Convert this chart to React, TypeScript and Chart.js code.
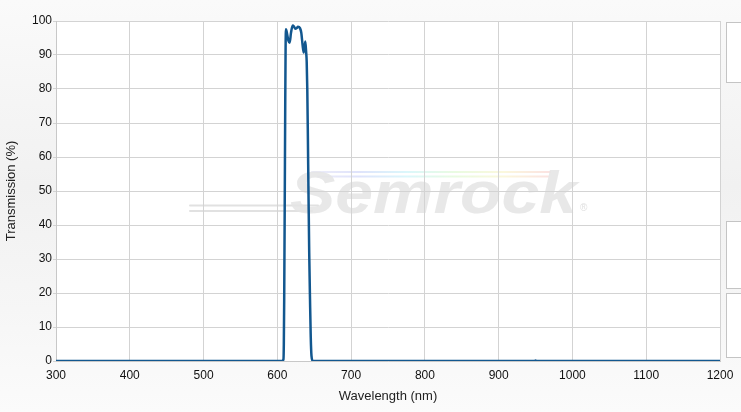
import React, { useEffect, useRef } from "react";
import { Chart, registerables } from "chart.js";

Chart.register(...registerables);

const wavelengths: number[] = [
  300, 600, 606, 608.3, 608.8, 609.3, 610, 610.7, 611.2, 611.7, 613, 615, 616.7,
  618.5, 620.8, 622.5, 624.4, 626.3, 628, 630.7, 632.5, 634.2, 635.7, 637.9, 639,
  639.8, 640.6, 641.4, 642.2, 643.2, 644.3, 645.3, 646.3, 648, 660, 940, 948, 950,
  952, 960, 1200,
];
const transmission: number[] = [
  0, 0, 0, 0.5, 5, 18, 45, 75, 92, 97.6, 96.5, 94.2, 93.6, 96.5, 98.7, 98.4, 97.7,
  97.9, 98.3, 97.9, 96.5, 93, 90.7, 94, 91, 88, 80, 66, 50, 32, 18, 7, 1.5, 0, 0,
  0, 0, 0.15, 0, 0, 0,
];
const xTicks: number[] = [300, 400, 500, 600, 700, 800, 900, 1000, 1100, 1200];
const yTicks: number[] = [0, 10, 20, 30, 40, 50, 60, 70, 80, 90, 100];
const xTitle = "Wavelength (nm)";
const yTitle = "Transmission (%)";
const watermark = "Semrock";

const FONT = "'Liberation Sans', Arial, sans-serif";

const bgPlugin = {
  id: "bgWatermark",
  beforeDraw(chart: any) {
    const { ctx, chartArea } = chart;
    const { left, top, right, bottom } = chartArea;
    ctx.save();
    ctx.fillStyle = "#ffffff";
    ctx.fillRect(left, top, right - left, bottom - top);

    // streaks
    ctx.lineCap = "round";
    ctx.strokeStyle = "rgba(222,222,222,0.9)";
    ctx.lineWidth = 2;
    ctx.beginPath();
    ctx.moveTo(190, 205.5);
    ctx.lineTo(318, 205.5);
    ctx.moveTo(190, 211);
    ctx.lineTo(312, 211);
    ctx.stroke();

    const g = ctx.createLinearGradient(310, 0, 552, 0);
    g.addColorStop(0, "rgba(225,225,245,0.6)");
    g.addColorStop(0.2, "rgba(215,220,250,0.8)");
    g.addColorStop(0.4, "rgba(210,245,250,0.8)");
    g.addColorStop(0.6, "rgba(228,250,218,0.8)");
    g.addColorStop(0.8, "rgba(250,246,212,0.8)");
    g.addColorStop(1, "rgba(250,218,218,0.8)");
    ctx.strokeStyle = g;
    ctx.lineWidth = 2;
    ctx.beginPath();
    ctx.moveTo(312, 172);
    ctx.lineTo(550, 172);
    ctx.moveTo(318, 176.5);
    ctx.lineTo(548, 176.5);
    ctx.stroke();

    // text
    ctx.font = `bold italic 60px ${FONT}`;
    ctx.textBaseline = "alphabetic";
    ctx.textAlign = "left";
    const w = ctx.measureText(watermark).width;
    const targetW = 287;
    ctx.translate(290, 213);
    ctx.scale(targetW / w, 1);
    ctx.fillStyle = "rgba(228,228,228,0.85)";
    ctx.fillText(watermark, 0, 0);
    ctx.restore();

    ctx.save();
    ctx.font = `10px ${FONT}`;
    ctx.fillStyle = "rgba(220,220,220,0.9)";
    ctx.fillText("®", 580, 211);
    ctx.restore();
  },
};

export default function App() {
  const ref = useRef<HTMLCanvasElement | null>(null);

  useEffect(() => {
    document.body.style.margin = "0";
    const canvas = ref.current;
    if (!canvas) return;
    const chart = new Chart(canvas, {
      type: "line",
      data: {
        datasets: [
          {
            data: wavelengths.map((x, i) => ({ x, y: transmission[i] })),
            borderColor: "#12578f",
            borderWidth: 2.5,
            pointRadius: 0,
            cubicInterpolationMode: "monotone",
            fill: false,
          },
        ],
      },
      options: {
        animation: false,
        responsive: false,
        maintainAspectRatio: false,
        layout: { padding: { left: 0, right: 21, top: 21, bottom: 0 } },
        plugins: {
          legend: { display: false },
          tooltip: { enabled: false },
        },
        scales: {
          x: {
            type: "linear",
            min: 300,
            max: 1200,
            afterBuildTicks: (scale: any) => {
              scale.ticks = xTicks.map((v) => ({ value: v }));
            },
            afterFit: (scale: any) => {
              scale.height = 51;
            },
            ticks: {
              color: "#111",
              font: { family: FONT, size: 12 },
              padding: 7,
              maxRotation: 0,
              autoSkip: false,
              callback: (v: any) => String(v),
            },
            grid: { color: "#d3d3d3", drawTicks: false, lineWidth: 1 },
            border: { display: true, color: "#c8c8c8" },
            title: {
              display: true,
              text: xTitle,
              color: "#222",
              font: { family: FONT, size: 13 },
              padding: { top: 0, bottom: 8 },
            },
          },
          y: {
            type: "linear",
            min: 0,
            max: 100,
            afterBuildTicks: (scale: any) => {
              scale.ticks = yTicks.map((v) => ({ value: v }));
            },
            afterFit: (scale: any) => {
              scale.width = 56;
            },
            ticks: {
              color: "#111",
              font: { family: FONT, size: 12 },
              padding: 1,
              autoSkip: false,
              callback: (v: any) => String(v),
            },
            grid: { color: "#d3d3d3", tickLength: 3, lineWidth: 1 },
            border: { display: true, color: "#c8c8c8" },
            title: {
              display: true,
              text: yTitle,
              color: "#222",
              font: { family: FONT, size: 13 },
              padding: { top: 4, bottom: 0 },
            },
          },
        },
      },
      plugins: [bgPlugin],
    } as any);
    return () => chart.destroy();
  }, []);

  const panel = (top: number, height: number): React.CSSProperties => ({
    position: "absolute",
    left: 726,
    top,
    width: 20,
    height,
    background: "#ffffff",
    border: "1px solid #c4c4c4",
    boxSizing: "border-box",
  });

  return (
    <div
      style={{
        position: "fixed",
        left: 0,
        top: 0,
        width: 741,
        height: 412,
        overflow: "hidden",
        background:
          "linear-gradient(to bottom, #fafafa 0%, #f1f1f1 45%, #f6f6f6 75%, #fbfbfb 100%)",
      }}
    >
      <div style={panel(22, 61)} />
      <div style={panel(221, 68)} />
      <div style={panel(293, 65)} />
      <canvas
        ref={ref}
        width={741}
        height={412}
        style={{ position: "absolute", left: 0, top: 0, width: 741, height: 412 }}
      />
    </div>
  );
}
